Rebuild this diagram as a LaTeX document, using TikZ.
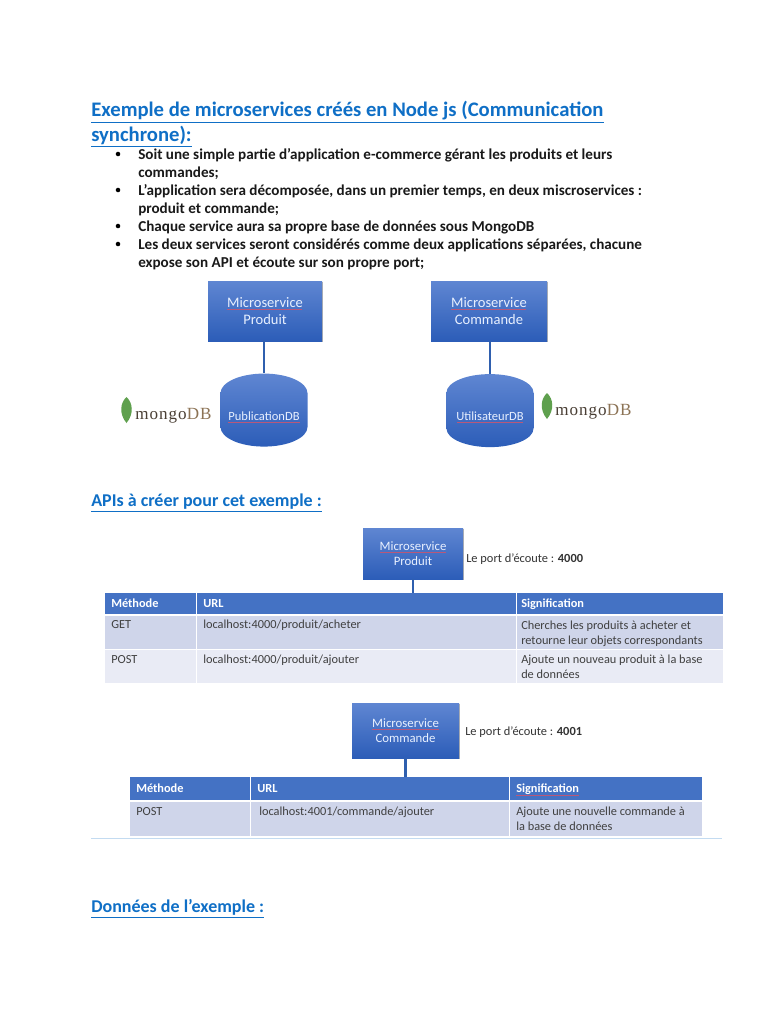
\documentclass[tikz,border=0pt]{standalone}
\usepackage{fontspec}
\setmainfont{Carlito}
\newfontfamily\mongofont[LetterSpace=6]{Liberation Serif}
\usetikzlibrary{shapes.geometric,shadows}
\definecolor{headblue}{HTML}{0F6FC6}
\definecolor{boxtop}{HTML}{5F86D2}
\definecolor{boxbot}{HTML}{2C5DB8}
\definecolor{linkblue}{HTML}{2F5FAE}
\definecolor{thead}{HTML}{4472C4}
\definecolor{trowa}{HTML}{CFD5EA}
\definecolor{trowb}{HTML}{E9EBF5}
\definecolor{sq}{HTML}{B8587A}
\definecolor{boxtxt}{HTML}{E8F0FF}
\definecolor{leaf}{HTML}{5FA04E}
\definecolor{mongodark}{HTML}{4A3F35}
\definecolor{mongolight}{HTML}{8C7355}
\tikzset{
  x=0.75pt,y=-0.75pt,
  svc/.style={rectangle,inner sep=0pt,top color=boxtop,bottom color=boxbot,draw=none,
    drop shadow={shadow xshift=0.8pt,shadow yshift=-0.8pt,fill=black,opacity=0.3},
    text=boxtxt,align=center},
  dbase/.style={cylinder,shape border rotate=90,aspect=0.55,inner sep=0pt,
    top color=boxtop,bottom color=boxbot,draw=none,text=boxtxt,align=center},
  link/.style={draw=linkblue,line width=1.6pt},
  line/.style={anchor=base west,inner sep=0pt,font=\fontsize{11.35pt}{13pt}\selectfont\bfseries,text=black!90},
  heading/.style={anchor=base west,inner sep=0pt,text=headblue,font=\bfseries},
  bul/.style={circle,fill=black,inner sep=0pt,minimum size=3.4pt},
  cellh/.style={anchor=base west,inner sep=0pt,text=white,font=\fontsize{9.25pt}{11pt}\selectfont\bfseries},
  cell/.style={anchor=base west,inner sep=0pt,text=black!75,font=\fontsize{9.25pt}{11pt}\selectfont},
  port/.style={anchor=base west,inner sep=0pt,text=black!80,font=\fontsize{9.3pt}{11pt}\selectfont},
  band/.style={rectangle,inner sep=0pt,anchor=north west},
  mongo/.style={anchor=base west,inner sep=0pt,font=\fontsize{12.8pt}{14pt}\mongofont,text=mongodark},
  leafshape/.style={fill=leaf,draw=none},
  spell/.style={draw=sq,line width=0.75pt}
}
\newcommand\band[6]{\node[band,fill=#6,minimum width=#4*0.75pt,minimum height=#5*0.75pt] (#1) at (#2,#3) {};}
\begin{document}
\begin{tikzpicture}
\useasboundingbox (0,0) rectangle (768,1024);
\fill[white] (0,0) rectangle (768,1024);

% Headings
\node[heading,font=\fontsize{15.5pt}{17pt}\selectfont\bfseries] (h1) at (91,116.8) {\underline{Exemple de microservices créés en Node js (Communication}};
\node[heading,font=\fontsize{15.5pt}{17pt}\selectfont\bfseries] (h1b) at (91,141) {\underline{synchrone):}};
\node[heading,font=\fontsize{13.5pt}{15pt}\selectfont\bfseries] (h2) at (91,506.8) {\underline{APIs à créer pour cet exemple :}};
\node[heading,font=\fontsize{13.5pt}{15pt}\selectfont\bfseries] (h3) at (91,912.8) {\underline{Données de l’exemple :}};

% Bullets
\node[bul] (b1) at (118,154) {};
\node[bul] (b2) at (118,190) {};
\node[bul] (b3) at (118,226) {};
\node[bul] (b4) at (118,244) {};
\node[line] (t1) at (138,159) {Soit une simple partie d’application e-commerce gérant les produits et leurs};
\node[line] (t1b) at (138,177) {commandes;};
\node[line] (t2) at (138,195) {L’application sera décomposée, dans un premier temps, en deux miscroservices :};
\node[line] (t2b) at (138,213) {produit et commande;};
\node[line] (t3) at (138,231) {Chaque service aura sa propre base de données sous MongoDB};
\node[line] (t4) at (138,249) {Les deux services seront considérés comme deux applications séparées, chacune};
\node[line] (t4b) at (138,267) {expose son API et écoute sur son propre port;};

% Top diagram
\node[svc,minimum width=114*0.75pt,minimum height=60*0.75pt,font=\fontsize{10.9pt}{13pt}\selectfont] (s1) at (265,311) {Microservice\\Produit};
\node[svc,minimum width=116*0.75pt,minimum height=60*0.75pt,font=\fontsize{10.9pt}{13pt}\selectfont] (s2) at (489,311) {Microservice\\Commande};
\node[dbase,minimum width=87*0.75pt,minimum height=73*0.75pt,font=\fontsize{9.4pt}{11pt}\selectfont] (d1) at (264,420) {\smash{PublicationDB}};
\node[dbase,minimum width=87*0.75pt,minimum height=73*0.75pt,font=\fontsize{9.4pt}{11pt}\selectfont] (d2) at (490,420) {\smash{UtilisateurDB}};
\draw[link] (s1.south -| d1.north) -- (d1.north);
\draw[link] (s2.south -| d2.north) -- (d2.north);

% mongoDB logos
\fill[leafshape] (126.5,397) .. controls (133,403) and (134,414) .. (126.5,423) .. controls (119,414) and (120,403) .. (126.5,397) -- cycle;
\node[mongo] (m1) at (135,419) {mongo\textcolor{mongolight}{DB}};
\fill[leafshape] (547,393) .. controls (553.5,399) and (554.5,410) .. (547,419) .. controls (539.5,410) and (540.5,399) .. (547,393) -- cycle;
\node[mongo] (m2) at (555,415) {mongo\textcolor{mongolight}{DB}};

% Table 1
\node[svc,minimum width=100*0.75pt,minimum height=51*0.75pt,font=\fontsize{9.6pt}{11pt}\selectfont] (s3) at (413,553.5) {Microservice\\Produit};
\node[port] (p1) at (466,562) {Le port d’écoute : \textbf{4000}};
\band{ta}{105}{593}{91}{21}{thead}
\band{tb}{197}{593}{319}{21}{thead}
\band{tc}{517}{593}{206}{21}{thead}
\band{ra}{105}{616}{91}{33}{trowa}
\band{rb}{197}{616}{319}{33}{trowa}
\band{rc}{517}{616}{206}{33}{trowa}
\band{qa}{105}{650}{91}{33}{trowb}
\band{qb}{197}{650}{319}{33}{trowb}
\band{qc}{517}{650}{206}{33}{trowb}
\draw[link] (s3.south) -- (s3.south |- tb.north);
\node[cellh] (c1) at (111,607) {Méthode};
\node[cellh] (c2) at (203,607) {URL};
\node[cellh] (c3) at (521,607) {Signification};
\node[cell] (c4) at (111,628) {GET};
\node[cell] (c5) at (203,628) {localhost:4000/produit/acheter};
\node[cell] (c6) at (521,629) {Cherches les produits à acheter et};
\node[cell] (c7) at (521,644) {retourne leur objets correspondants};
\node[cell] (c8) at (111,663) {POST};
\node[cell] (c9) at (203,663) {localhost:4000/produit/ajouter};
\node[cell] (c10) at (521,663) {Ajoute un nouveau produit à la base};
\node[cell] (c11) at (521,678) {de données};

% Table 2
\node[svc,minimum width=107*0.75pt,minimum height=55*0.75pt,font=\fontsize{9.6pt}{11pt}\selectfont] (s4) at (405.5,730.5) {Microservice\\Commande};
\node[port] (p2) at (465,735) {Le port d’écoute : \textbf{4001}};
\band{ua}{130}{777}{120}{23}{thead}
\band{ub}{251}{777}{258}{23}{thead}
\band{uc}{510}{777}{192}{23}{thead}
\band{va}{130}{802}{120}{34}{trowa}
\band{vb}{251}{802}{258}{34}{trowa}
\band{vc}{510}{802}{192}{34}{trowa}
\draw[link] (s4.south) -- (s4.south |- ub.north);
\node[cellh] (e1) at (136,792) {Méthode};
\node[cellh] (e2) at (257,792) {URL};
\node[cellh] (e3) at (516,792) {Signification};
\node[cell] (e4) at (136,815) {POST};
\node[cell] (e5) at (259,815) {localhost:4001/commande/ajouter};
\node[cell] (e6) at (516,815) {Ajoute une nouvelle commande à};
\node[cell] (e7) at (516,830) {la base de données};
\coordinate (ra1) at (91,838.5);
\coordinate (ra2) at (722,838.5);
\draw[draw=headblue!25,line width=0.8pt] (ra1) -- (ra2);

% Spell-check underlines
\draw[spell] (227,309) -- (302,309);
\draw[spell] (451,309) -- (526,309);
\draw[spell] (228,422) -- (300,422);
\draw[spell] (457,422) -- (523,422);
\draw[spell] (380,552) -- (446,552);
\draw[spell] (372,729) -- (439,729);
\draw[spell] (516,795) -- (579,795);
\end{tikzpicture}
\end{document}
